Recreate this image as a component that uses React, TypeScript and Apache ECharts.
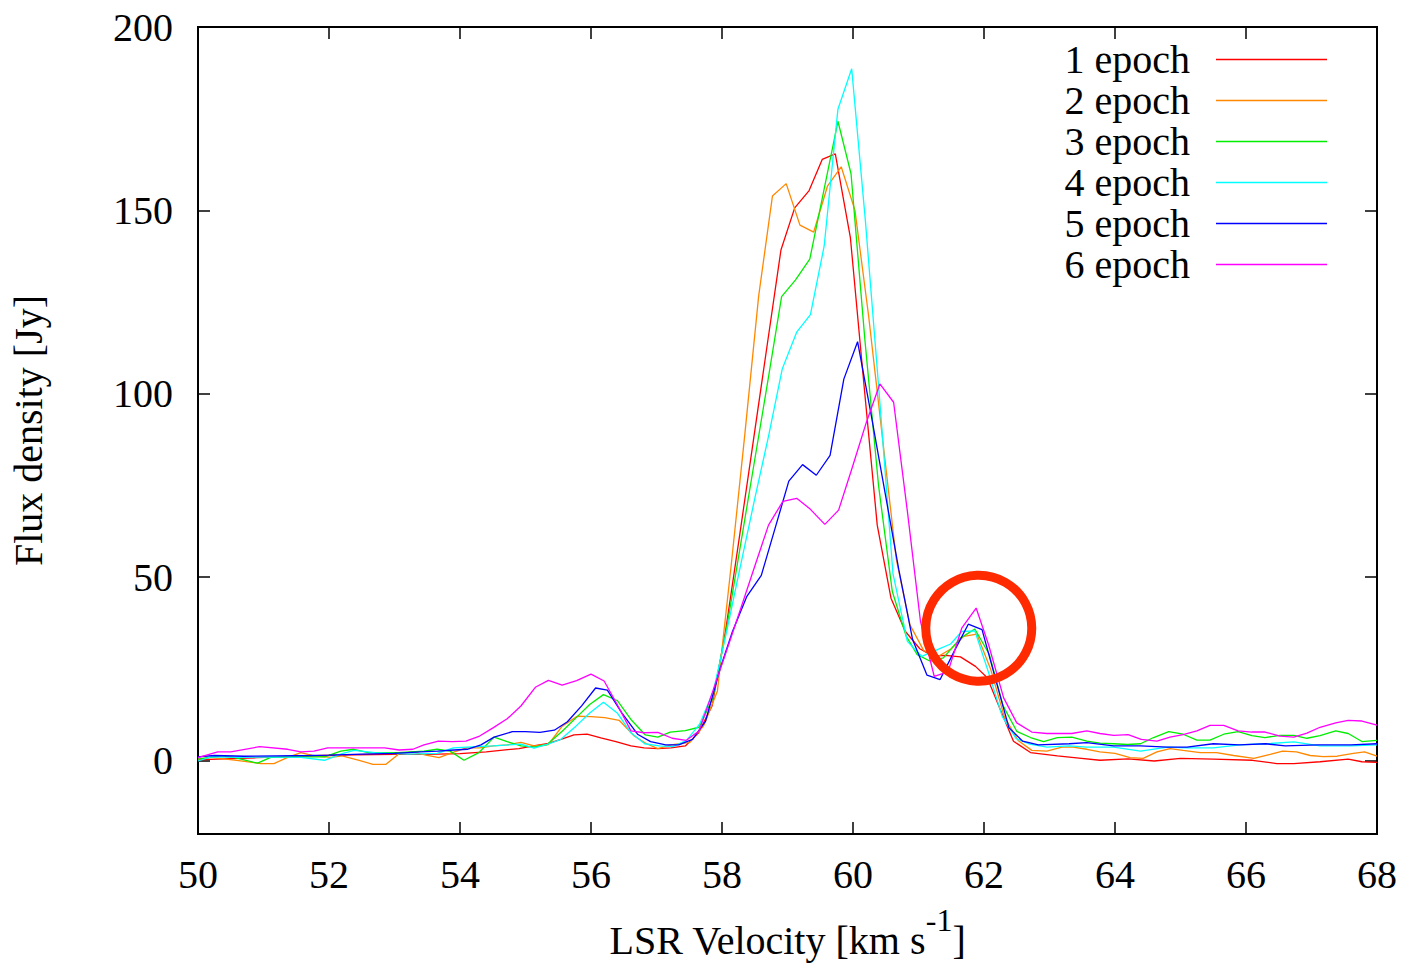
import React, { useEffect, useRef } from "react";
import * as echarts from "echarts";

const FONT = "'Liberation Serif', 'Times New Roman', serif";

const seriesNames = ["1 epoch", "2 epoch", "3 epoch", "4 epoch", "5 epoch", "6 epoch"];
const seriesColors = ["#ff0000", "#ff8800", "#00ee00", "#00ffff", "#0000ff", "#ff00ff"];
const yTickValues = [0, 50, 100, 150, 200];
const circleCenter = [61.92, 36.1];

const epoch1: [number, number][] = [
  [50.0, 0.2], [50.4, 0.5], [50.9, 0.8], [51.4, 1.1], [51.9, 1.4], [52.4, 1.6], [53.0, 1.7], [53.5, 1.7],
  [54.0, 1.9], [54.4, 2.4], [54.9, 3.3], [55.12, 4.0], [55.33, 4.6], [55.54, 5.8], [55.74, 7.0], [55.94, 7.2],
  [56.15, 6.2], [56.38, 5.2], [56.61, 4.0], [56.81, 3.5], [57.02, 3.3], [57.22, 3.5], [57.44, 4.0], [57.64, 7.5],
  [57.85, 15], [58.06, 36], [58.27, 61.5], [58.48, 87.4], [58.69, 113.3], [58.9, 139.2], [59.11, 150.7],
  [59.33, 155.4], [59.53, 163.9], [59.73, 165.4], [59.96, 142.6], [60.17, 102], [60.37, 64.2], [60.58, 44.3],
  [60.8, 35.2], [61.02, 30.5], [61.22, 28.5], [61.41, 28.7], [61.64, 28.3], [61.87, 25.7], [62.05, 22.6],
  [62.25, 13.9], [62.45, 5.3], [62.71, 2.2], [63.12, 1.3], [63.45, 0.7], [63.77, 0.1], [64.2, 0.5], [64.6, -0.1],
  [65.0, 0.6], [65.5, 0.4], [66.1, 0.1], [66.47, -0.8], [66.73, -0.8], [67.13, -0.3], [67.56, 0.4], [67.77, -0.3],
  [68.0, -0.5],
];

const epoch2: [number, number][] = [
  [50.0, 0.4], [50.2, 0.9], [50.62, 0], [50.96, -0.8], [51.16, -0.8], [51.37, 0.9], [51.57, 2.2], [51.77, 1.3],
  [52.03, 0.9], [52.2, 1.3], [52.46, 0.1], [52.67, -1.0], [52.87, -1.0], [53.07, 1.9], [53.28, 2.4], [53.48, 1.5],
  [53.68, 0.8], [53.88, 2.2], [54.1, 3.5], [54.3, 3.5], [54.51, 4.0], [54.72, 4.3], [54.93, 5.0], [55.13, 4.0],
  [55.35, 4.4], [55.56, 9.4], [55.79, 12.1], [56.0, 12.0], [56.21, 11.7], [56.43, 11.0], [56.66, 6.7], [56.85, 4.6],
  [57.02, 3.3], [57.22, 4.3], [57.51, 5.0], [57.72, 9.5], [57.93, 19], [58.14, 53.2], [58.35, 89.2], [58.56, 126.7],
  [58.77, 153.9], [58.98, 157.3], [59.19, 146.0], [59.4, 144.1], [59.61, 156.6], [59.82, 161.9], [60.03, 150],
  [60.24, 121], [60.45, 88], [60.66, 55], [60.87, 37], [61.08, 30], [61.29, 28.3], [61.5, 30.5], [61.69, 33.9],
  [61.89, 34.5], [62.1, 25], [62.31, 12], [62.52, 5.5], [62.73, 2.8], [62.96, 2.6], [63.19, 3.7], [63.36, 3.7],
  [63.57, 3.1], [63.77, 2.4], [64.0, 2.0], [64.23, 0.8], [64.43, 0.6], [64.64, 2.4], [64.84, 3.3], [65.04, 2.8],
  [65.3, 2.2], [65.55, 2.2], [65.81, 1.4], [66.12, 0.6], [66.37, 1.7], [66.56, 2.6], [66.77, 2.4], [66.98, 1.4],
  [67.18, 1.1], [67.39, 1.2], [67.64, 2.0], [67.81, 2.4], [68.0, 1.2],
];

const epoch3: [number, number][] = [
  [50.0, 0.4], [50.35, 1.3], [50.55, 0.9], [50.91, -0.7], [51.11, 0.9], [51.42, 1.0], [51.93, 1.0], [52.18, 2.6],
  [52.38, 3.1], [52.6, 2.2], [53.05, 2.2], [53.45, 2.6], [53.65, 3.1], [53.85, 2.6], [54.06, 0.1], [54.29, 2.2],
  [54.52, 6.4], [54.72, 5.2], [54.93, 4.0], [55.13, 3.7], [55.33, 4.4], [55.56, 8.0], [55.79, 12.0], [55.98, 15.3],
  [56.19, 18.0], [56.4, 16.4], [56.62, 11.0], [56.83, 7.0], [57.02, 6.4], [57.21, 7.8], [57.44, 8.2], [57.65, 9.1],
  [57.86, 17], [58.07, 36], [58.28, 58.5], [58.49, 81], [58.7, 103.5], [58.91, 126.5], [59.12, 131], [59.34, 136.7],
  [59.55, 155], [59.77, 174.3], [59.97, 160], [60.18, 115], [60.39, 75], [60.6, 46.1], [60.81, 34], [60.98, 28.9],
  [61.18, 27.1], [61.38, 28.0], [61.64, 33.4], [61.86, 35.9], [62.08, 29], [62.29, 15], [62.5, 8.0], [62.71, 6.3],
  [62.91, 5.2], [63.12, 6.3], [63.34, 6.4], [63.57, 5.3], [63.77, 4.8], [63.98, 4.6], [64.19, 4.4], [64.39, 4.6],
  [64.59, 6.3], [64.82, 7.9], [65.04, 7.2], [65.25, 5.6], [65.45, 5.6], [65.66, 7.2], [65.88, 7.9], [66.09, 6.8],
  [66.29, 6.3], [66.52, 6.9], [66.73, 6.9], [66.93, 6.1], [67.13, 6.8], [67.37, 8.1], [67.56, 7.4], [67.77, 5.2],
  [68.0, 5.5],
];

const epoch4: [number, number][] = [
  [50.0, -0.1], [50.2, 1.0], [50.6, 0.9], [51.1, 1.0], [51.57, 0.9], [51.93, 0.1], [52.2, 1.9], [52.38, 2.8],
  [52.7, 2.2], [53.2, 1.8], [53.65, 2.0], [53.9, 3.5], [54.1, 3.7], [54.5, 4.0], [54.93, 4.5], [55.13, 3.4],
  [55.33, 4.4], [55.54, 5.8], [55.77, 9.4], [55.98, 13.0], [56.19, 15.9], [56.4, 13.0], [56.61, 7.6], [56.82, 4.6],
  [57.04, 4.0], [57.25, 3.8], [57.46, 5.5], [57.66, 10], [57.87, 19], [58.08, 36], [58.29, 53.8], [58.5, 71.4],
  [58.71, 88.4], [58.92, 106.8], [59.14, 116.8], [59.35, 121.6], [59.56, 140.3], [59.77, 177.6], [59.98, 188.6],
  [60.19, 147], [60.4, 100], [60.61, 51], [60.83, 32.5], [61.05, 28.4], [61.28, 30.2], [61.49, 31.8], [61.66, 35.2],
  [61.86, 35.4], [62.07, 24], [62.28, 12], [62.49, 6], [62.7, 4.5], [62.96, 3.7], [63.3, 4.0], [63.57, 3.7],
  [63.98, 3.7], [64.39, 2.6], [64.8, 3.7], [65.1, 3.5], [65.5, 3.5], [65.9, 4.3], [66.3, 4.6], [66.73, 5.1],
  [67.13, 4.0], [67.6, 4.0], [68.0, 4.3],
];

const epoch5: [number, number][] = [
  [50.0, 1.0], [50.25, 1.4], [50.7, 1.2], [51.2, 1.3], [51.7, 1.4], [52.0, 1.5], [52.5, 1.8], [53.0, 2.0],
  [53.4, 2.4], [53.66, 2.6], [53.91, 2.9], [54.11, 3.1], [54.32, 4.3], [54.52, 6.4], [54.8, 7.9], [55.0, 7.9],
  [55.22, 7.7], [55.44, 8.3], [55.64, 10.6], [55.86, 15.0], [56.07, 19.8], [56.25, 19.2], [56.47, 13.0], [56.71, 7.2],
  [56.91, 5.2], [57.14, 4.3], [57.34, 4.3], [57.55, 5.8], [57.75, 10.8], [57.97, 25], [58.16, 35.2], [58.38, 44.8],
  [58.6, 50.5], [58.81, 63.3], [59.02, 76.2], [59.23, 80.7], [59.44, 77.8], [59.65, 83.2], [59.86, 104],
  [60.07, 114.2], [60.28, 94], [60.49, 73], [60.7, 52], [60.91, 33], [61.13, 23.3], [61.33, 22.1], [61.55, 30],
  [61.76, 37.2], [61.97, 35.7], [62.18, 22], [62.38, 9.0], [62.59, 5.3], [62.83, 4.3], [63.3, 4.6], [63.57, 4.9],
  [63.98, 4.0], [64.39, 4.0], [64.8, 3.7], [65.1, 3.7], [65.5, 4.6], [65.9, 4.3], [66.3, 4.6], [66.6, 4.0],
  [67.1, 4.3], [67.6, 4.3], [68.0, 4.6],
];

const epoch6: [number, number][] = [
  [50.0, 0.8], [50.3, 2.4], [50.5, 2.4], [50.94, 3.8], [51.37, 3.1], [51.57, 2.4], [51.77, 2.6], [51.98, 3.5],
  [52.43, 3.5], [52.85, 3.5], [53.07, 2.9], [53.28, 3.1], [53.45, 4.3], [53.67, 5.3], [53.88, 5.2], [54.09, 5.3],
  [54.3, 6.7], [54.51, 9.0], [54.72, 11.4], [54.93, 14.9], [55.15, 20.0], [55.35, 21.9], [55.56, 20.6], [55.78, 21.8],
  [56.0, 23.6], [56.2, 21.7], [56.4, 15.3], [56.61, 8.1], [56.81, 7.6], [57.02, 7.7], [57.24, 6.1], [57.45, 5.5],
  [57.65, 8.1], [57.87, 19.5], [58.08, 30.5], [58.29, 41.7], [58.5, 53], [58.71, 64.2], [58.93, 70.7], [59.14, 71.5],
  [59.35, 68.5], [59.57, 64.4], [59.78, 68.3], [59.99, 80], [60.2, 92], [60.41, 102.7], [60.62, 97.7], [60.83, 68],
  [61.03, 38], [61.24, 23], [61.45, 24.2], [61.66, 36.1], [61.88, 41.6], [62.07, 31.6], [62.3, 17.1], [62.5, 10.3],
  [62.73, 7.8], [62.96, 7.4], [63.34, 7.4], [63.57, 8.1], [63.77, 7.4], [63.98, 6.9], [64.2, 7.1], [64.4, 5.8],
  [64.64, 5.3], [64.84, 6.4], [65.04, 7.1], [65.25, 8.1], [65.45, 9.6], [65.66, 9.6], [65.88, 8.1], [66.09, 7.8],
  [66.29, 7.8], [66.52, 6.7], [66.73, 6.4], [66.93, 7.5], [67.13, 9.1], [67.37, 10.3], [67.56, 11.0], [67.77, 10.8],
  [68.0, 9.7],
];

const allData = [epoch1, epoch2, epoch3, epoch4, epoch5, epoch6];

export default function App() {
  const ref = useRef<HTMLDivElement>(null);

  useEffect(() => {
    if (!ref.current) return;
    const chart = echarts.init(ref.current, null, { renderer: "svg", width: 1404, height: 965 });
    const tickStyle = { color: "#000", width: 1.5 };
    const option: any = {
      animation: false,
      backgroundColor: "#ffffff",
      textStyle: { fontFamily: FONT },
      grid: {
        left: 197,
        top: 27,
        width: 1180,
        height: 818,
        show: true,
        borderColor: "#000",
        borderWidth: 2,
        backgroundColor: "transparent",
      },
      legend: {
        orient: "vertical",
        right: 77,
        top: 39,
        padding: 0,
        itemGap: 0,
        align: "right",
        icon: "rect",
        itemWidth: 111,
        itemHeight: 1.5,
        data: seriesNames,
        textStyle: {
          fontFamily: FONT,
          fontSize: 40,
          color: "#000",
          lineHeight: 41,
          padding: [0, 21, 0, 0],
        },
      },
      xAxis: [
        {
          type: "value",
          min: 50,
          max: 68,
          interval: 2,
          position: "bottom",
          axisLine: { show: false, onZero: false },
          axisTick: { inside: true, length: 12, lineStyle: tickStyle },
          axisLabel: { fontSize: 40, color: "#000", margin: 20, fontFamily: FONT, lineHeight: 40 },
          splitLine: { show: false },
          name: "LSR Velocity [km s{sup|-1}]",
          nameLocation: "middle",
          nameGap: 70,
          nameTextStyle: {
            fontSize: 40,
            color: "#000",
            fontFamily: FONT,
            rich: {
              sup: { fontSize: 32, color: "#000", fontFamily: FONT, padding: [0, 0, 40, 0] },
            },
          },
        },
        {
          type: "value",
          min: 50,
          max: 68,
          interval: 2,
          position: "top",
          axisLine: { show: false, onZero: false },
          axisTick: { inside: true, length: 12, lineStyle: tickStyle },
          axisLabel: { show: false },
          splitLine: { show: false },
        },
      ],
      yAxis: [
        {
          type: "value",
          min: -20,
          max: 200,
          position: "left",
          axisLine: { show: false, onZero: false },
          axisTick: { inside: true, length: 12, lineStyle: tickStyle, customValues: yTickValues },
          axisLabel: { customValues: yTickValues, fontSize: 40, color: "#000", margin: 25, fontFamily: FONT },
          splitLine: { show: false },
          name: "Flux density [Jy]",
          nameLocation: "middle",
          nameGap: 150,
          nameRotate: 90,
          nameTextStyle: { fontSize: 40, color: "#000", fontFamily: FONT },
        },
        {
          type: "value",
          min: -20,
          max: 200,
          position: "right",
          axisLine: { show: false, onZero: false },
          axisTick: { inside: true, length: 12, lineStyle: tickStyle, customValues: yTickValues },
          axisLabel: { show: false, customValues: yTickValues },
          splitLine: { show: false },
        },
      ],
      series: allData.map((d, i) => ({
        name: seriesNames[i],
        type: "line",
        xAxisIndex: 0,
        yAxisIndex: 0,
        data: d,
        showSymbol: false,
        symbol: "none",
        color: seriesColors[i],
        lineStyle: { color: seriesColors[i], width: 1.3 },
        clip: true,
      })),
    };
    chart.setOption(option);
    const p = chart.convertToPixel({ xAxisIndex: 0, yAxisIndex: 0 }, circleCenter) as number[];
    chart.setOption({
      graphic: [
        {
          type: "circle",
          shape: { cx: p[0], cy: p[1], r: 53 },
          style: { fill: "none", stroke: "#ff2a00", lineWidth: 9 },
          z: 100,
        },
      ],
    });
    return () => chart.dispose();
  }, []);

  return (
    <div
      ref={ref}
      style={{ position: "absolute", left: 0, top: 0, width: 1404, height: 965, background: "#fff" }}
    />
  );
}
